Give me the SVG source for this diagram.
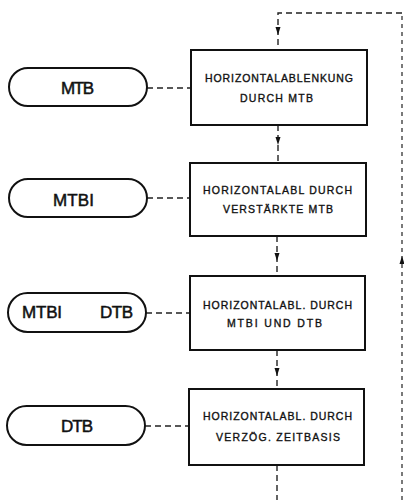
<svg xmlns="http://www.w3.org/2000/svg" width="404" height="500" viewBox="0 0 404 500">
<style>
  .box{fill:#fff;stroke:#111;stroke-width:2}
  .pill{fill:#fff;stroke:#111;stroke-width:2}
  .bt{font-family:"Liberation Sans",Arial,sans-serif;font-size:10.5px;fill:#111;stroke:#111;stroke-width:0.35}
  .pt{font-family:"Liberation Sans",Arial,sans-serif;font-size:17px;fill:#111;stroke:#111;stroke-width:0.5}
  .dash{fill:none;stroke:#222;stroke-width:1.4;stroke-dasharray:6 4}
  .dashv{fill:none;stroke:#333;stroke-width:1.3;stroke-dasharray:4 4}
  .ah{fill:#111}
</style>
<defs>
  <path id="ad" d="M-2.5,-4 L2.5,-4 L0,4 Z"/>
  <path id="au" d="M-2.5,4 L2.5,4 L0,-4 Z"/>
</defs>
<rect width="404" height="500" fill="#fff"/>
<g id="connectors">
  <path class="dashv" d="M402,500 V13"/>
  <path class="dash" d="M402,13 H278 V50"/>
  <path class="dash" d="M278,125 V163"/>
  <path class="dash" d="M277,236 V276"/>
  <path class="dash" d="M277,350 V389"/>
  <path class="dash" d="M277,465 V500"/>
  <path class="dash" d="M147,88 H191"/>
  <path class="dash" d="M147,198 H190"/>
  <path class="dash" d="M146,313 H190"/>
  <path class="dash" d="M145,426 H189"/>
  <use href="#ad" class="ah" x="278" y="31"/>
  <use href="#ad" class="ah" x="278" y="141"/>
  <use href="#ad" class="ah" x="277" y="257"/>
  <use href="#ad" class="ah" x="277" y="372"/>
  <use href="#au" class="ah" x="402" y="260"/>
</g>
<g id="box1">
  <rect class="box" x="191" y="50" width="176" height="75"/>
  <text class="bt" x="205" y="82" textLength="148" lengthAdjust="spacing">HORIZONTALABLENKUNG</text>
  <text class="bt" x="240" y="102" textLength="73" lengthAdjust="spacing">DURCH MTB</text>
</g>
<g id="box2">
  <rect class="box" x="190" y="163" width="176" height="73"/>
  <text class="bt" x="203" y="194" textLength="149" lengthAdjust="spacing">HORIZONTALABL DURCH</text>
  <text class="bt" x="223" y="213" textLength="110" lengthAdjust="spacing">VERSTÄRKTE MTB</text>
</g>
<g id="box3">
  <rect class="box" x="190" y="276" width="175" height="74"/>
  <text class="bt" x="203" y="309" textLength="149" lengthAdjust="spacing">HORIZONTALABL. DURCH</text>
  <text class="bt" x="227" y="327" textLength="95" lengthAdjust="spacing">MTBI UND DTB</text>
</g>
<g id="box4">
  <rect class="box" x="189" y="389" width="175" height="76"/>
  <text class="bt" x="203" y="420" textLength="149" lengthAdjust="spacing">HORIZONTALABL. DURCH</text>
  <text class="bt" x="216" y="441" textLength="124" lengthAdjust="spacing">VERZÖG. ZEITBASIS</text>
</g>
<g id="pill-mtb">
  <rect class="pill" x="9" y="68" width="138" height="38" rx="19"/>
  <text class="pt" x="61" y="94" textLength="33" lengthAdjust="spacing">MTB</text>
</g>
<g id="pill-mtbi">
  <rect class="pill" x="9" y="179" width="138" height="38" rx="19"/>
  <text class="pt" x="53" y="206" textLength="41" lengthAdjust="spacing">MTBI</text>
</g>
<g id="pill-mtbi-dtb">
  <rect class="pill" x="8" y="293" width="138" height="39" rx="19.5"/>
  <text class="pt" y="318"><tspan x="22" textLength="40" lengthAdjust="spacing">MTBI</tspan><tspan x="100" textLength="33" lengthAdjust="spacing">DTB</tspan></text>
</g>
<g id="pill-dtb">
  <rect class="pill" x="7" y="406" width="138" height="39" rx="19.5"/>
  <text class="pt" x="61" y="432" textLength="32" lengthAdjust="spacing">DTB</text>
</g>
</svg>
